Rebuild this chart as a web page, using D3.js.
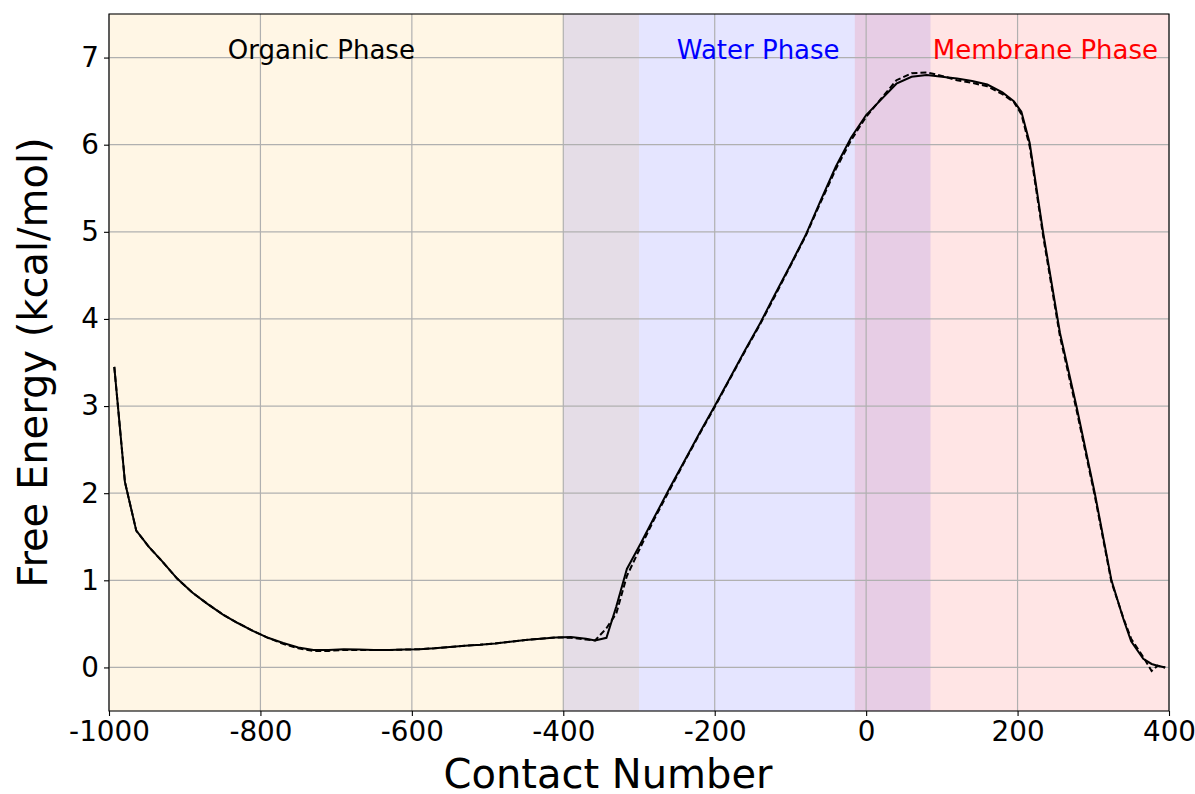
<!DOCTYPE html>
<meta charset="utf-8">
<script src="https://d3js.org/d3.v7.min.js"></script>
<style>
  body { margin: 0; background: #fff; }
  text { font-family: "DejaVu Sans", sans-serif; }
</style>
<div id="chart"></div>
<script>

// contact number samples and the two free energy profiles (kcal/mol)
var contact = [-993, -979, -964, -947, -930, -910, -890, -870, -850, -830, -810, -790, -770, -750, -730, -710,
  -690, -670, -650, -630, -610, -590, -570, -550, -530, -510, -490, -470, -450, -430, -410, -390, -370, -358,
  -343, -330, -316, -298, -280, -260, -240, -220, -200, -180, -160, -140, -120, -100, -80, -60, -40, -20,
  0, 20, 40, 60, 80, 100, 120, 140, 160, 180, 195, 205, 216, 234, 256, 278, 302, 324, 340, 350, 366, 377, 385, 395];

var energySolid = [3.45, 2.13, 1.57, 1.38, 1.22, 1.02, 0.86, 0.73, 0.61, 0.51, 0.42, 0.34, 0.28, 0.23, 0.20, 0.20,
  0.21, 0.205, 0.20, 0.20, 0.205, 0.21, 0.22, 0.235, 0.25, 0.26, 0.275, 0.295, 0.315, 0.33, 0.345, 0.35, 0.33, 0.31,
  0.34, 0.70, 1.13, 1.42, 1.72, 2.05, 2.37, 2.69, 3.00, 3.32, 3.64, 3.95, 4.29, 4.62, 4.96, 5.36, 5.75, 6.08,
  6.34, 6.52, 6.70, 6.78, 6.80, 6.78, 6.76, 6.73, 6.69, 6.60, 6.50, 6.38, 6.02, 4.98, 3.84, 2.99, 2.00, 1.00, 0.55, 0.30, 0.10, 0.04, 0.02, 0.00];

var energyDashed = [3.45, 2.13, 1.57, 1.38, 1.22, 1.02, 0.86, 0.73, 0.61, 0.51, 0.42, 0.34, 0.27, 0.22, 0.19, 0.19,
  0.20, 0.20, 0.20, 0.20, 0.205, 0.21, 0.22, 0.235, 0.25, 0.26, 0.275, 0.295, 0.315, 0.33, 0.345, 0.34, 0.32, 0.31,
  0.45, 0.62, 1.05, 1.38, 1.70, 2.03, 2.36, 2.68, 2.99, 3.31, 3.63, 3.94, 4.27, 4.61, 4.95, 5.34, 5.72, 6.05,
  6.32, 6.53, 6.74, 6.82, 6.83, 6.79, 6.74, 6.71, 6.67, 6.58, 6.49, 6.35, 5.98, 4.94, 3.80, 2.95, 1.97, 0.98, 0.56, 0.33, 0.12, -0.04, 0.02, 0.00];

// phase regions and their labels
var phaseNames = ["Organic Phase", "Water Phase", "Membrane Phase"];
var phaseStart = [-1000, -400, -15];
var phaseEnd = [-300, 85, 400];
var phaseColors = ["orange", "blue", "red"];
var phaseTextColors = ["black", "blue", "red"];
var phaseLabelX = [-843, -250, 88];

var xTicks = [-1000, -800, -600, -400, -200, 0, 200, 400];
var yTicks = [0, 1, 2, 3, 4, 5, 6, 7];

var margin = {top: 14, right: 26, bottom: 83, left: 109},
    width = 1195 - margin.left - margin.right,
    height = 794 - margin.top - margin.bottom;

var svg = d3.select("#chart")
  .append("svg")
    .attr("width", 1195)
    .attr("height", 794)
  .append("g")
    .attr("transform", "translate(" + margin.left + "," + margin.top + ")");

var x = d3.scaleLinear().domain([-1000, 400]).range([0, width]);
var y = d3.scaleLinear().domain([-0.5, 7.5]).range([height, 0]);

// shaded phases
svg.selectAll(".phase")
  .data(phaseNames)
  .enter()
  .append("rect")
    .attr("x", function(d, i) { return x(phaseStart[i]); })
    .attr("y", 0)
    .attr("width", function(d, i) { return x(phaseEnd[i]) - x(phaseStart[i]); })
    .attr("height", height)
    .attr("fill", function(d, i) { return phaseColors[i]; })
    .attr("fill-opacity", 0.1);

// grid
svg.selectAll(".gx")
  .data(xTicks)
  .enter()
  .append("line")
    .attr("x1", function(d) { return x(d); })
    .attr("x2", function(d) { return x(d); })
    .attr("y1", 0)
    .attr("y2", height)
    .attr("stroke", "#b0b0b0")
    .attr("stroke-width", 1.2);

svg.selectAll(".gy")
  .data(yTicks)
  .enter()
  .append("line")
    .attr("x1", 0)
    .attr("x2", width)
    .attr("y1", function(d) { return y(d); })
    .attr("y2", function(d) { return y(d); })
    .attr("stroke", "#b0b0b0")
    .attr("stroke-width", 1.2);

// curves
var line = d3.line()
  .x(function(d) { return x(d[0]); })
  .y(function(d) { return y(d[1]); });

svg.append("path")
  .datum(d3.zip(contact, energyDashed))
  .attr("fill", "none")
  .attr("stroke", "black")
  .attr("stroke-width", 2)
  .attr("stroke-dasharray", "6 3")
  .attr("d", line);

svg.append("path")
  .datum(d3.zip(contact, energySolid))
  .attr("fill", "none")
  .attr("stroke", "black")
  .attr("stroke-width", 2)
  .attr("d", line);

// phase labels
svg.selectAll(".plabel")
  .data(phaseNames)
  .enter()
  .append("text")
    .attr("x", function(d, i) { return x(phaseLabelX[i]); })
    .attr("y", y(7) + 1)
    .attr("font-size", "26px")
    .attr("fill", function(d, i) { return phaseTextColors[i]; })
    .text(function(d) { return d; });

// axes
var xAxis = svg.append("g")
  .attr("transform", "translate(0," + height + ")")
  .call(d3.axisBottom(x).tickValues(xTicks).tickSize(5).tickPadding(5).tickFormat(function(d) { return String(d); }));

var yAxis = svg.append("g")
  .call(d3.axisLeft(y).tickValues(yTicks).tickSize(5).tickPadding(5).tickFormat(function(d) { return String(d); }));

[xAxis, yAxis].forEach(function(a) {
  a.select(".domain").remove();
  a.selectAll("line").attr("stroke", "black").attr("stroke-width", 1.1);
  a.selectAll("text").attr("font-size", "27.8px").attr("fill", "black").attr("font-family", "DejaVu Sans");
});

// frame
svg.append("rect")
  .attr("width", width)
  .attr("height", height)
  .attr("fill", "none")
  .attr("stroke", "black")
  .attr("stroke-width", 1.1);

svg.append("text")
  .attr("x", 608 - margin.left)
  .attr("y", height + 77)
  .attr("text-anchor", "middle")
  .attr("font-size", "40px")
  .text("Contact Number");

svg.append("text")
  .attr("transform", "translate(" + (-62) + "," + (height / 2) + ")rotate(-90)")
  .attr("text-anchor", "middle")
  .attr("font-size", "40px")
  .text("Free Energy (kcal/mol)");

</script>
